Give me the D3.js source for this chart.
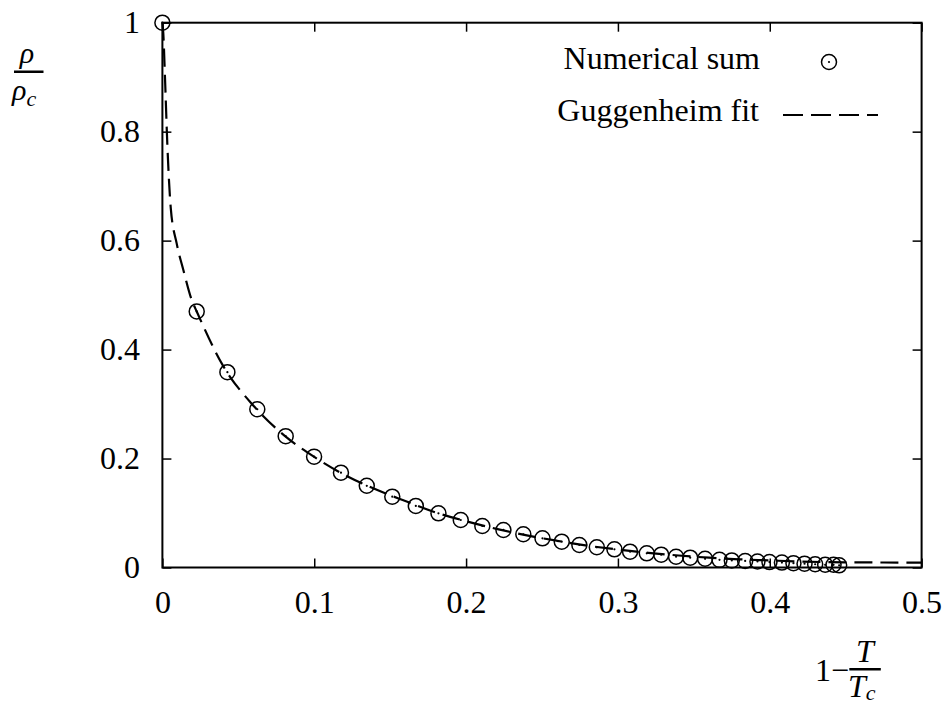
<!DOCTYPE html>
<html>
<head>
<meta charset="utf-8">
<script src="https://cdn.jsdelivr.net/npm/d3@7"></script>
<style>
	body { margin: 0; background: #fff; }
	svg { display: block; font-family: 'Liberation Serif', 'Times New Roman', serif; }
</style>
</head>
<body>
<div id="chart"></div>
<script>
/* global d3 */

// Axis ticks
const xTicks = [ 0, 0.1, 0.2, 0.3, 0.4, 0.5 ];
const xTickLabels = [ '0', '0.1', '0.2', '0.3', '0.4', '0.5' ];
const yTicks = [ 0, 0.2, 0.4, 0.6, 0.8, 1 ];
const yTickLabels = [ '0', '0.2', '0.4', '0.6', '0.8', '1' ];

// Numerical sum (circles)
const sumX = [
	0, 0.0226, 0.0428, 0.0625, 0.0812, 0.0999, 0.1176, 0.1346, 0.1514, 0.1669,
	0.1818, 0.1965, 0.2107, 0.2246, 0.2377, 0.2503, 0.2630, 0.2746, 0.2861, 0.2977,
	0.3080, 0.3190, 0.3285, 0.3383, 0.3476, 0.3574, 0.3669, 0.3750, 0.3838, 0.3919,
	0.3998, 0.4080, 0.4156, 0.4229, 0.4299, 0.4365, 0.4420, 0.4457,
];
const sumY = [
	1.0, 0.470, 0.3585, 0.2905, 0.241, 0.2035, 0.174, 0.150, 0.130, 0.113,
	0.0995, 0.0872, 0.0762, 0.0689, 0.061, 0.0536, 0.0474, 0.0413, 0.0371, 0.0334,
	0.029, 0.026, 0.0235, 0.0198, 0.018, 0.016, 0.014, 0.013, 0.012, 0.011,
	0.010, 0.009, 0.008, 0.007, 0.006, 0.005, 0.005, 0.004,
];

// Guggenheim fit (dashed line)
const fitX = [
	0, 0.0006, 0.0017, 0.0032, 0.0055, 0.0094, 0.0138, 0.0193, 0.0226, 0.04,
	0.06, 0.08, 0.10, 0.12, 0.14, 0.16, 0.18, 0.20, 0.22, 0.24,
	0.26, 0.28, 0.30, 0.32, 0.34, 0.36, 0.38, 0.40, 0.42, 0.45, 0.50,
];
const fitY = [
	1, 0.98, 0.90, 0.78, 0.66, 0.595, 0.546, 0.491, 0.47, 0.37,
	0.297, 0.243, 0.203, 0.170, 0.144, 0.122, 0.101, 0.085, 0.071, 0.059,
	0.049, 0.040, 0.033, 0.027, 0.022, 0.018, 0.015, 0.013, 0.011, 0.0095, 0.009,
];

const seriesNames = [ 'Numerical sum', 'Guggenheim fit' ];

/**
 * Density vs reduced temperature chart
 */
class DensityChart {
	/**
	 * @param {string} selector - Container selector
	 */
	constructor( selector ) {
		this.selector = selector;
		this.config = {
			width: 944,
			height: 706,
			left: 162.4,
			right: 921.6,
			top: 22.7,
			bottom: 567.5,
			tickSize: 9,
			fontSize: 32,
			markerRadius: 7.5,
			dash: '18,8',
		};

		this.initializeChart();
	}

	/**
	 * Build everything
	 */
	initializeChart() {
		this.createSVG();
		this.setupScales();
		this.drawAxes();
		this.drawFit();
		this.drawPoints();
		this.drawLegend();
		this.drawLabels();
	}

	createSVG() {
		const { width, height } = this.config;
		this.svg = d3.select( this.selector )
			.append( 'svg' )
			.attr( 'width', width )
			.attr( 'height', height )
			.attr( 'font-family', 'Liberation Serif, serif' );
	}

	setupScales() {
		const { left, right, top, bottom } = this.config;
		this.x = d3.scaleLinear().domain( [ 0, 0.5 ] ).range( [ left, right ] );
		this.y = d3.scaleLinear().domain( [ 0, 1 ] ).range( [ bottom, top ] );
	}

	/**
	 * Style an axis group: serif labels, thin inward ticks, no domain
	 *
	 * @param {Object} g - Axis selection
	 */
	styleAxis( g ) {
		g.attr( 'font-family', null )
			.attr( 'font-size', this.config.fontSize );
		g.select( '.domain' ).remove();
		g.selectAll( '.tick line' )
			.attr( 'stroke', '#000' )
			.attr( 'stroke-width', 1.5 );
		g.selectAll( '.tick text' ).attr( 'fill', '#000' );
	}

	drawAxes() {
		const { left, right, top, bottom, tickSize } = this.config;

		this.svg.append( 'g' )
			.attr( 'transform', `translate(0,${ bottom })` )
			.call( d3.axisBottom( this.x )
				.tickValues( xTicks )
				.tickFormat( ( d, i ) => xTickLabels[ i ] )
				.tickSize( -tickSize )
				.tickPadding( 22.5 ) )
			.call( ( g ) => this.styleAxis( g ) );

		this.svg.append( 'g' )
			.attr( 'transform', `translate(${ left },0)` )
			.call( d3.axisLeft( this.y )
				.tickValues( yTicks )
				.tickFormat( ( d, i ) => yTickLabels[ i ] )
				.tickSize( -tickSize )
				.tickPadding( 22.4 ) )
			.call( ( g ) => this.styleAxis( g ) );

		// mirrored ticks on top and right
		this.svg.append( 'g' )
			.attr( 'transform', `translate(0,${ top })` )
			.call( d3.axisTop( this.x ).tickValues( xTicks ).tickFormat( '' ).tickSize( -tickSize ) )
			.call( ( g ) => this.styleAxis( g ) );

		this.svg.append( 'g' )
			.attr( 'transform', `translate(${ right },0)` )
			.call( d3.axisRight( this.y ).tickValues( yTicks ).tickFormat( '' ).tickSize( -tickSize ) )
			.call( ( g ) => this.styleAxis( g ) );

		this.svg.append( 'rect' )
			.attr( 'x', left )
			.attr( 'y', top )
			.attr( 'width', right - left )
			.attr( 'height', bottom - top )
			.attr( 'fill', 'none' )
			.attr( 'stroke', '#000' )
			.attr( 'stroke-width', 2 );
	}

	drawFit() {
		const line = d3.line()
			.x( ( d ) => this.x( d[ 0 ] ) )
			.y( ( d ) => this.y( d[ 1 ] ) )
			.curve( d3.curveMonotoneX );

		this.svg.append( 'path' )
			.datum( fitX.map( ( v, i ) => [ v, fitY[ i ] ] ) )
			.attr( 'd', line )
			.attr( 'fill', 'none' )
			.attr( 'stroke', '#000' )
			.attr( 'stroke-width', 2.2 )
			.attr( 'stroke-dasharray', this.config.dash );
	}

	/**
	 * Circle with a dot in the middle
	 *
	 * @param {Object} g - Group to draw into
	 */
	marker( g ) {
		g.append( 'circle' )
			.attr( 'r', this.config.markerRadius )
			.attr( 'fill', 'none' )
			.attr( 'stroke', '#000' )
			.attr( 'stroke-width', 1.5 );
		g.append( 'circle' )
			.attr( 'r', 1.1 )
			.attr( 'fill', '#000' );
	}

	drawPoints() {
		this.svg.selectAll( 'g.point' )
			.data( sumX.map( ( v, i ) => [ v, sumY[ i ] ] ) )
			.enter()
			.append( 'g' )
			.attr( 'class', 'point' )
			.attr( 'transform', ( d ) => `translate(${ this.x( d[ 0 ] ) },${ this.y( d[ 1 ] ) })` )
			.each( ( d, i, nodes ) => this.marker( d3.select( nodes[ i ] ) ) );
	}

	drawLegend() {
		const fs = this.config.fontSize;
		const legend = this.svg.append( 'g' ).attr( 'font-size', fs );

		legend.append( 'text' )
			.attr( 'x', 760 )
			.attr( 'y', 69 )
			.attr( 'text-anchor', 'end' )
			.text( seriesNames[ 0 ] );

		legend.append( 'g' )
			.attr( 'transform', 'translate(829,62)' )
			.call( ( g ) => this.marker( g ) );

		legend.append( 'text' )
			.attr( 'x', 759 )
			.attr( 'y', 121 )
			.attr( 'text-anchor', 'end' )
			.text( seriesNames[ 1 ] );

		legend.append( 'line' )
			.attr( 'x1', 783 )
			.attr( 'x2', 878 )
			.attr( 'y1', 115 )
			.attr( 'y2', 115 )
			.attr( 'stroke', '#000' )
			.attr( 'stroke-width', 2.2 )
			.attr( 'stroke-dasharray', '20,8' );
	}

	drawLabels() {
		// y label: rho / rho_c
		const yl = this.svg.append( 'g' );
		yl.append( 'text' )
			.attr( 'x', 27 )
			.attr( 'y', 63 )
			.attr( 'text-anchor', 'middle' )
			.attr( 'font-size', 30 )
			.attr( 'font-style', 'italic' )
			.text( 'ρ' );
		yl.append( 'rect' )
			.attr( 'x', 14 )
			.attr( 'y', 70.5 )
			.attr( 'width', 29.5 )
			.attr( 'height', 2.5 );
		const yd = yl.append( 'text' )
			.attr( 'x', 12 )
			.attr( 'y', 100 )
			.attr( 'font-size', 30 )
			.attr( 'font-style', 'italic' );
		yd.append( 'tspan' ).text( 'ρ' );
		yd.append( 'tspan' )
			.attr( 'font-size', 22 )
			.attr( 'dy', 6 )
			.text( 'c' );

		// x label: 1 - T / T_c (nudged up so the subscript stays on the page)
		const xl = this.svg.append( 'g' );
		xl.append( 'text' )
			.attr( 'x', 849 )
			.attr( 'y', 681 )
			.attr( 'text-anchor', 'end' )
			.attr( 'font-size', 32 )
			.text( '1−' );
		xl.append( 'rect' )
			.attr( 'x', 849.3 )
			.attr( 'y', 668 )
			.attr( 'width', 31.5 )
			.attr( 'height', 2.5 );
		xl.append( 'text' )
			.attr( 'x', 865 )
			.attr( 'y', 662 )
			.attr( 'text-anchor', 'middle' )
			.attr( 'font-size', 32 )
			.attr( 'font-style', 'italic' )
			.text( 'T' );
		const xd = xl.append( 'text' )
			.attr( 'x', 848 )
			.attr( 'y', 697 )
			.attr( 'font-size', 32 )
			.attr( 'font-style', 'italic' );
		xd.append( 'tspan' ).text( 'T' );
		xd.append( 'tspan' )
			.attr( 'font-size', 22 )
			.attr( 'dy', 3 )
			.text( 'c' );
	}
}

new DensityChart( '#chart' );
</script>
</body>
</html>
